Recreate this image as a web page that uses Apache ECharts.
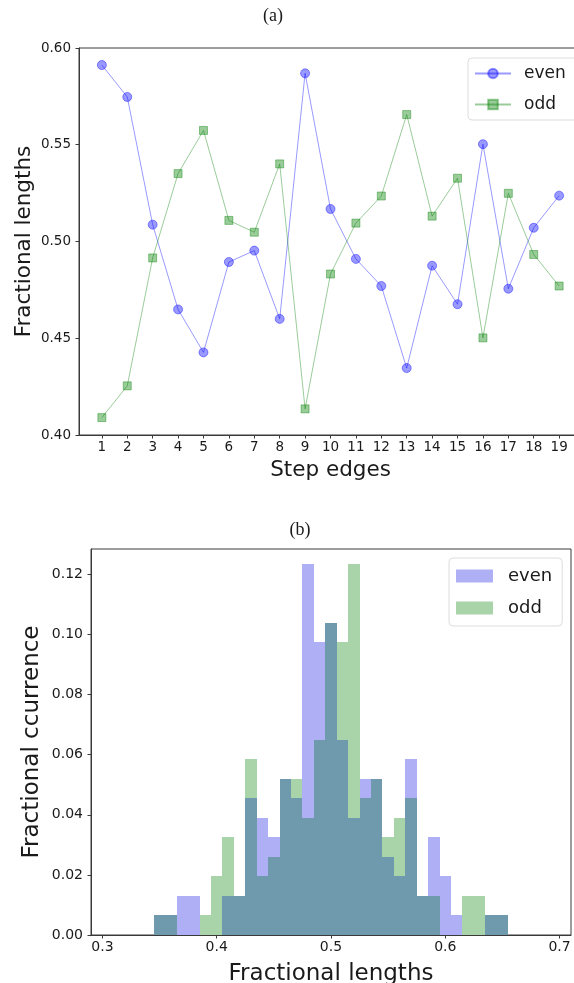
<!DOCTYPE html>
<html><head><meta charset="utf-8">
<script src="https://cdn.jsdelivr.net/npm/echarts@6/dist/echarts.min.js"></script>
<style>html,body{margin:0;padding:0;background:#fff}#c{width:574px;height:983px}</style>
</head><body><div id="c"></div>
<script>
// ---- panel (a): fractional lengths per step edge ----
const steps = [1,2,3,4,5,6,7,8,9,10,11,12,13,14,15,16,17,18,19];
const evenLengths = [0.5912,0.5747,0.5087,0.4649,0.4427,0.4894,0.4953,0.4600,0.5869,0.5168,0.4910,0.4770,0.4346,0.4875,0.4676,0.5503,0.4756,0.5071,0.5237];
const oddLengths  = [0.4090,0.4254,0.4915,0.5351,0.5574,0.5109,0.5048,0.5401,0.4135,0.4832,0.5095,0.5235,0.5656,0.5131,0.5327,0.4502,0.5249,0.4933,0.4770];
const lengthTicks = [0.40,0.45,0.50,0.55,0.60];

// ---- panel (b): histogram of fractional lengths ----
const binCenters = [0.35,0.36,0.37,0.38,0.39,0.40,0.41,0.42,0.43,0.44,0.45,0.46,0.47,0.48,0.49,0.50,0.51,0.52,0.53,0.54,0.55,0.56,0.57,0.58,0.59,0.60,0.61,0.62,0.63,0.64,0.65];
const binWidth = 0.01;
const evenOccurrence = [0.0065,0.0065,0.0130,0.0130,0,0,0.0130,0.0130,0.0455,0.0390,0.0325,0.0519,0.0455,0.1234,0.0974,0.1039,0.0649,0.0390,0.0519,0.0519,0.0260,0.0195,0.0584,0.0130,0.0325,0.0195,0.0065,0,0,0.0065,0.0065];
const oddOccurrence  = [0.0065,0.0065,0,0,0.0065,0.0195,0.0325,0.0130,0.0584,0.0195,0.0260,0.0519,0.0519,0.0390,0.0649,0.1039,0.0974,0.1234,0.0455,0.0519,0.0325,0.0390,0.0455,0.0130,0.0130,0,0,0.0130,0.0130,0.0065,0.0065];
const histXTicks = [0.3,0.4,0.5,0.6,0.7];
const histYTicks = [0.00,0.02,0.04,0.06,0.08,0.10,0.12];

const FONT = 'DejaVu Sans';
const TXT = '#1a1a1a';
const SPINE = '#3a3a3a';
const EVEN_LINE = 'rgba(0,0,255,0.40)';
const ODD_LINE = 'rgba(0,128,0,0.40)';
const EVEN_FILL = '#afaff6';
const ODD_FILL = '#a9d3a9';
const BOTH_FILL = '#6f99ad';

function axisCommon(fs){
  return {
    nameMoveOverlap:false,
    axisLine:{show:true,onZero:false,lineStyle:{color:SPINE,width:1}},
    axisTick:{show:true,length:3.5,lineStyle:{color:SPINE,width:1}},
    splitLine:{show:false},
    axisLabel:{color:TXT,fontFamily:FONT,fontSize:fs},
    nameTextStyle:{color:TXT,fontFamily:FONT}
  };
}

function barRect(api, c, v){
  const p0 = api.coord([c - binWidth/2, 0]);
  const p1 = api.coord([c + binWidth/2, v]);
  const x0 = Math.round(p0[0]), x1 = Math.round(p1[0]);
  const y0 = Math.round(p0[1]), y1 = Math.round(p1[1]);
  return {x:x0, y:y1, width:x1-x0, height:y0-y1};
}

function histRender(fill, other){
  return function(params, api){
    const i = params.dataIndex;
    const c = api.value(0), v = api.value(1);
    const children = [];
    if (v > 0) children.push({type:'rect', shape:barRect(api, c, v), style:{fill:fill}});
    if (other) {
      const m = Math.min(v, other[i]);
      if (m > 0) children.push({type:'rect', shape:barRect(api, c, m), style:{fill:BOTH_FILL}});
    }
    return {type:'group', children:children};
  };
}

const chart = echarts.init(document.getElementById('c'), null, {renderer:'canvas'});
const a1 = axisCommon(13.5), a2 = axisCommon(13.5), b1 = axisCommon(14), b2 = axisCommon(14);

chart.setOption({
  animation:false,
  backgroundColor:'#fff',
  graphic:[
    {type:'text', x:273, y:16, style:{text:'(a)', font:'18px "Liberation Serif"', fill:TXT, textAlign:'center', textVerticalAlign:'middle'}},
    {type:'text', x:300, y:530, style:{text:'(b)', font:'18px "Liberation Serif"', fill:TXT, textAlign:'center', textVerticalAlign:'middle'}}
  ],
  grid:[
    {left:79, width:503, top:48, height:387, outerBoundsMode:'none', containLabel:false, show:true, borderColor:SPINE, borderWidth:1, backgroundColor:'transparent'},
    {left:91, right:3, top:549, height:386, outerBoundsMode:'none', containLabel:false, show:true, borderColor:SPINE, borderWidth:1, backgroundColor:'transparent'}
  ],
  legend:[
    {orient:'vertical', left:468, top:58, data:['even_a','odd_a'], formatter:n=>n.split('_')[0],
     itemWidth:36, itemHeight:12, itemGap:14, padding:[7,14,7,6],
     borderColor:'#dddddd', borderWidth:1, borderRadius:4, backgroundColor:'rgba(255,255,255,0.85)',
     textStyle:{fontFamily:FONT, fontSize:17, color:TXT, padding:[0,0,0,8]}},
    {orient:'vertical', left:449, top:558, data:['even_b','odd_b'], formatter:n=>n.split('_')[0],
     icon:'rect', itemWidth:37, itemHeight:13, itemGap:14, padding:[9,10,9,7],
     borderColor:'#dddddd', borderWidth:1, borderRadius:4, backgroundColor:'rgba(255,255,255,0.85)',
     textStyle:{fontFamily:FONT, fontSize:18, color:TXT, padding:[0,0,0,10]}}
  ],
  xAxis:[
    Object.assign(a1, {type:'value', gridIndex:0, min:0.1, max:19.9,
      name:'Step edges', nameLocation:'middle', nameGap:24,
      nameTextStyle:{color:TXT,fontFamily:FONT,fontSize:21.5},
      axisTick:Object.assign(a1.axisTick,{customValues:steps}),
      axisLabel:Object.assign(a1.axisLabel,{customValues:steps, margin:5})}),
    Object.assign(b1, {type:'value', gridIndex:1, min:0.29, max:0.71,
      name:'Fractional lengths', nameLocation:'middle', nameGap:28,
      nameTextStyle:{color:TXT,fontFamily:FONT,fontSize:23},
      axisTick:Object.assign(b1.axisTick,{customValues:histXTicks}),
      axisLabel:Object.assign(b1.axisLabel,{customValues:histXTicks, margin:5, formatter:v=>v.toFixed(1)})})
  ],
  yAxis:[
    Object.assign(a2, {type:'value', gridIndex:0, min:0.40, max:0.60, interval:0.05,
      name:'Fractional lengths', nameLocation:'middle', nameGap:44,
      nameTextStyle:{color:TXT,fontFamily:FONT,fontSize:21.5},
      axisLabel:Object.assign(a2.axisLabel,{margin:8, formatter:v=>v.toFixed(2)})}),
    Object.assign(b2, {type:'value', gridIndex:1, min:0, max:0.1284,
      name:'Fractional ccurrence', nameLocation:'middle', nameGap:47,
      nameTextStyle:{color:TXT,fontFamily:FONT,fontSize:23},
      axisTick:Object.assign(b2.axisTick,{customValues:histYTicks}),
      axisLabel:Object.assign(b2.axisLabel,{customValues:histYTicks, margin:8, formatter:v=>v.toFixed(2)})})
  ],
  series:[
    {name:'even_a', type:'line', xAxisIndex:0, yAxisIndex:0,
     data:steps.map((s,i)=>[s, evenLengths[i]]),
     symbol:'circle', symbolSize:9,
     lineStyle:{color:EVEN_LINE, width:1},
     itemStyle:{color:EVEN_LINE, borderColor:EVEN_LINE, borderWidth:1}},
    {name:'odd_a', type:'line', xAxisIndex:0, yAxisIndex:0,
     data:steps.map((s,i)=>[s, oddLengths[i]]),
     symbol:'rect', symbolSize:8,
     lineStyle:{color:ODD_LINE, width:1},
     itemStyle:{color:ODD_LINE, borderColor:ODD_LINE, borderWidth:1}},
    {name:'even_b', type:'custom', xAxisIndex:1, yAxisIndex:1,
     data:binCenters.map((c,i)=>[c, evenOccurrence[i]]),
     itemStyle:{color:EVEN_FILL},
     renderItem:histRender(EVEN_FILL, null)},
    {name:'odd_b', type:'custom', xAxisIndex:1, yAxisIndex:1,
     data:binCenters.map((c,i)=>[c, oddOccurrence[i]]),
     itemStyle:{color:ODD_FILL},
     renderItem:histRender(ODD_FILL, evenOccurrence)}
  ]
});
</script>
</body></html>
